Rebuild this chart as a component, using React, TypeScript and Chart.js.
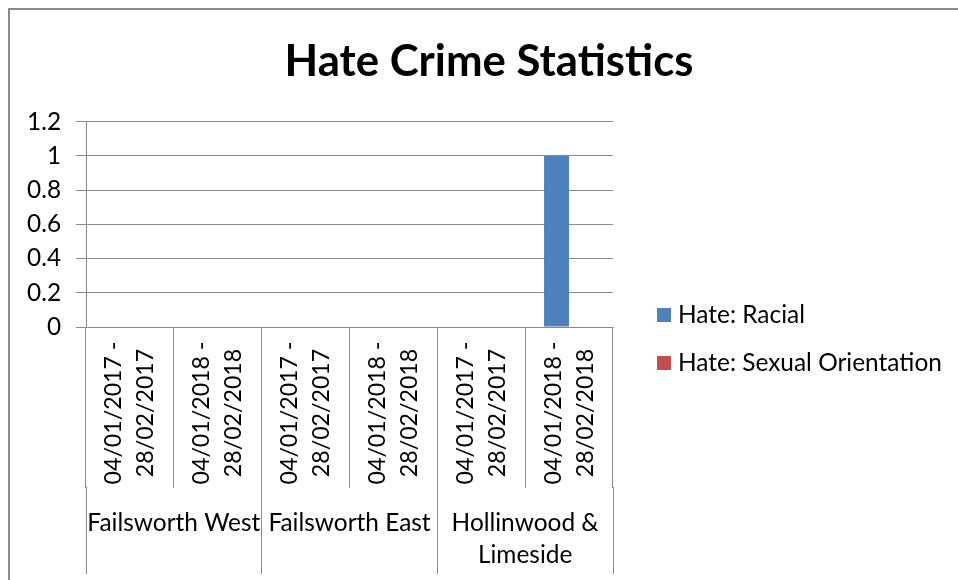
import React, { useEffect, useRef } from "react";
import { Chart, registerables } from "chart.js";

Chart.register(...registerables);

// ---- data ----
const TITLE = "Hate Crime Statistics";
const wards: string[][] = [["Failsworth West"], ["Failsworth East"], ["Hollinwood &", "Limeside"]];
const periods: string[][] = [
  ["04/01/2017 -", "28/02/2017"],
  ["04/01/2018 -", "28/02/2018"],
];
const seriesNames = ["Hate: Racial", "Hate: Sexual Orientation"];
const racial = [0, 0, 0, 0, 0, 1];
const sexualOrientation = [0, 0, 0, 0, 0, 0];
const yMin = 0;
const yMax = 1.2;
const yStep = 0.2;

const categories = wards.flatMap((w) => periods.map((p) => `${w.join(" ")} ${p.join(" ")}`));

// ---- style ----
const FAMILY = "Lato, 'Noto Sans', sans-serif";
const GRID = "#898989";
const COLORS = ["#4F81BD", "#C0504D"];

function fitSize(text: string, width: number, weight = "normal") {
  const c = document.createElement("canvas").getContext("2d")!;
  c.font = `${weight} 100px ${FAMILY}`;
  return (100 * width) / c.measureText(text).width;
}

export default function App() {
  const ref = useRef<HTMLCanvasElement>(null);

  useEffect(() => {
    const sizes = {
      title: fitSize(TITLE, 409, "bold"),
      legend: fitSize("Hate: Sexual Orientation", 264),
      group: fitSize("Failsworth West", 173),
      period: fitSize("04/01/2017 -", 143),
      y: fitSize("0.8", 34),
    };

    const excelPlugin = {
      id: "excelDecor",
      afterDraw(chart: any) {
        const { ctx, chartArea } = chart;
        const x = chart.scales.x;
        const align = (v: number) => Math.round(v - 0.5) + 0.5;
        ctx.save();

        // outer chart border
        ctx.strokeStyle = "#8a8a8a";
        ctx.lineWidth = 2;
        ctx.strokeRect(9, 9, chart.width + 40, chart.height + 40);

        // period (inner level) labels, rotated
        ctx.fillStyle = "#000";
        ctx.textAlign = "center";
        ctx.textBaseline = "middle";
        ctx.font = `${sizes.period}px ${FAMILY}`;
        const lineGap = 32;
        categories.forEach((_, i) => {
          const p = periods[i % periods.length];
          const cx = x.getPixelForValue(i);
          p.forEach((line, j) => {
            ctx.save();
            ctx.translate(cx + (j - (p.length - 1) / 2) * lineGap, chartArea.bottom + 86);
            ctx.rotate(-Math.PI / 2);
            ctx.fillText(line, 0, 0);
            ctx.restore();
          });
        });

        // group separators (long)
        ctx.strokeStyle = GRID;
        ctx.lineWidth = 1;
        for (let g = 0; g <= wards.length; g++) {
          const bx = align(x.getPixelForValue(g * periods.length - 0.5));
          ctx.beginPath();
          ctx.moveTo(bx, chartArea.bottom + 160);
          ctx.lineTo(bx, chartArea.bottom + 247);
          ctx.stroke();
        }

        // group (outer level) labels
        ctx.font = `${sizes.group}px ${FAMILY}`;
        wards.forEach((lines, g) => {
          const l = x.getPixelForValue(g * periods.length - 0.5);
          const r = x.getPixelForValue(g * periods.length + periods.length - 0.5);
          lines.forEach((line, j) => {
            ctx.fillText(line, (l + r) / 2, chartArea.bottom + 196 + j * 32);
          });
        });

        // legend
        ctx.font = `${sizes.legend}px ${FAMILY}`;
        ctx.textAlign = "left";
        chart.data.datasets.forEach((ds: any, i: number) => {
          const cy = 315 + i * 48;
          ctx.fillStyle = ds.backgroundColor;
          ctx.fillRect(657, cy - 7, 14, 14);
          ctx.fillStyle = "#000";
          ctx.fillText(ds.label, 678, cy);
        });

        ctx.restore();
      },
    };

    const chart = new Chart(ref.current!, {
      type: "bar",
      data: {
        labels: categories,
        datasets: [
          { label: seriesNames[0], data: racial, backgroundColor: COLORS[0] },
          { label: seriesNames[1], data: sexualOrientation, backgroundColor: COLORS[1] },
        ],
      },
      options: {
        responsive: false,
        animation: false,
        layout: { padding: { left: 20, right: 0, top: 0, bottom: 0 } },
        datasets: { bar: { categoryPercentage: 0.57, barPercentage: 1 } },
        plugins: {
          legend: { display: false },
          tooltip: { enabled: false },
          title: {
            display: true,
            text: TITLE,
            color: "#000",
            font: { family: FAMILY, size: sizes.title, weight: "bold", lineHeight: 1.2 },
            padding: { top: 62 - 0.6 * sizes.title, bottom: 121.7 - 62 - 0.6 * sizes.title },
          },
        },
        scales: {
          x: {
            type: "category",
            offset: true,
            grid: {
              display: true,
              offset: true,
              drawOnChartArea: false,
              drawTicks: true,
              tickLength: 161,
              color: GRID,
            },
            border: { display: true, color: GRID },
            ticks: { display: false },
            afterFit: (s: any) => {
              s.height = 253;
            },
          },
          y: {
            min: yMin,
            max: yMax,
            ticks: {
              stepSize: yStep,
              color: "#000",
              padding: 15,
              font: { family: FAMILY, size: sizes.y },
              callback: (v: any) => String(Number(Number(v).toFixed(1))),
            },
            grid: { color: GRID, tickLength: 10, drawTicks: true },
            border: { display: true, color: GRID },
            afterFit: (s: any) => {
              s.width = 66;
            },
          },
          yRight: {
            type: "linear",
            position: "right",
            display: true,
            grid: { display: false },
            border: { display: false },
            ticks: { display: false },
            afterFit: (s: any) => {
              s.width = 345;
            },
          },
        },
      },
      plugins: [excelPlugin],
    });

    return () => chart.destroy();
  }, []);

  return (
    <div style={{ position: "fixed", left: 0, top: 0, width: 958, height: 580, background: "#fff" }}>
      <canvas ref={ref} width={958} height={580} />
    </div>
  );
}
